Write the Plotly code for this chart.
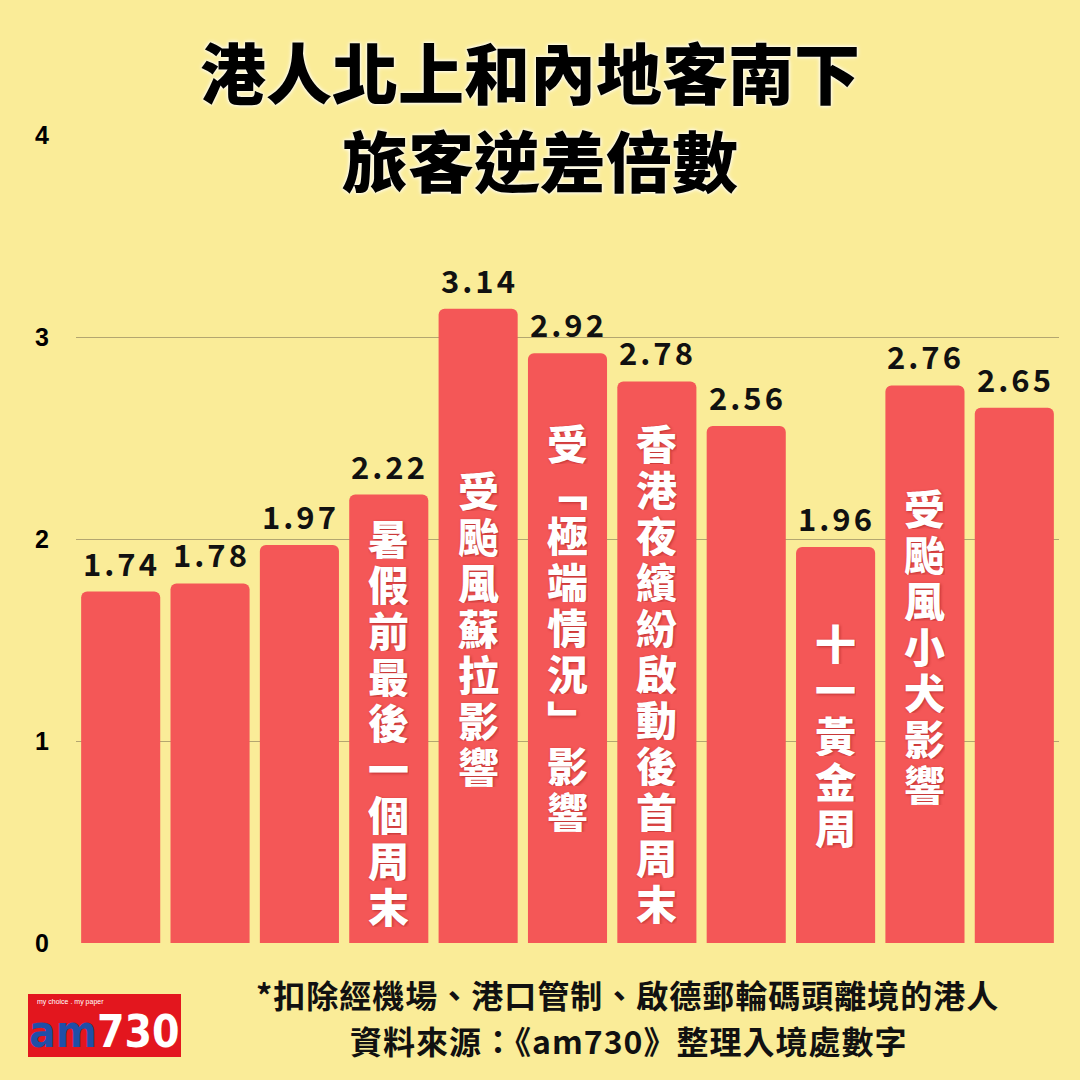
import plotly.graph_objects as go

# ---- data ----
weeks = list(range(11))
ratios = [1.74, 1.78, 1.97, 2.22, 3.14, 2.92, 2.78, 2.56, 1.96, 2.76, 2.65]
events = ["", "", "", "暑假前最後一個周末", "受颱風蘇拉影響", "受﹁極端情況﹂影響",
          "香港夜繽紛啟動後首周末", "", "十一黃金周", "受颱風小犬影響", ""]
y_ticks = [0, 1, 2, 3, 4]
title_lines = ["港人北上和內地客南下", "旅客逆差倍數"]
notes = ["*扣除經機場、港口管制、啟德郵輪碼頭離境的港人", "資料來源：《am730》整理入境處數字"]

BG = "#FAEC98"
BAR = "#F45757"
CJK = "Noto Sans CJK TC"

W = H = 1080
ML, MR, MT, MB = 76, 21, 135, 137
PW, PH = W - ML - MR, H - MT - MB


def px(xp):
    return (xp - ML) / PW


def py(yp):
    return (H - MB - yp) / PH


fig = go.Figure(go.Bar(
    x=weeks, y=ratios, marker=dict(color=BAR, line=dict(width=0)),
    hoverinfo="skip",
))

# pixel offset from bar top to centre of first label character; char pitch
label_offset = [0, 0, 0, 42, 180, 89, 61, 0, 95, 122, 0]
PITCH = 46

annotations = []
for x, v in zip(weeks, ratios):
    annotations.append(dict(
        x=x, y=v, xref="x", yref="y",
        text=f"<span style='letter-spacing:3px'>{v:.2f}</span>", showarrow=False,
        yanchor="bottom", yshift=5, xshift=1,
        font=dict(family=CJK, size=31, color="#111111", weight="bold"),
    ))
for x, v, t, off in zip(weeks, ratios, events, label_offset):
    for i, ch in enumerate(t):
        annotations.append(dict(
            x=x, y=v, xref="x", yref="y", text=ch, showarrow=False,
            yanchor="middle", xanchor="center", yshift=-(off + i * PITCH),
            height=44, valign="middle", borderpad=0,
            font=dict(family=CJK, size=41, color="white", weight=900,
                      shadow="1px 1px 3px rgba(120,0,0,0.45)"),
        ))

# title
for txt, xc, yc in [(title_lines[0], 530, 70), (title_lines[1], 540, 158)]:
    annotations.append(dict(
        x=px(xc), y=py(yc), xref="paper", yref="paper", text=txt,
        showarrow=False, yanchor="middle", xanchor="center",
        font=dict(family=CJK, size=66, color="black", weight=900,
                  shadow="0 0 5px white, 0 0 3px white"),
    ))
# footnotes
for txt, xc, yc in [(notes[0], 627, 994), (notes[1], 628, 1040)]:
    annotations.append(dict(
        x=px(xc), y=py(yc), xref="paper", yref="paper",
        text=f"<span style='letter-spacing:1px'>{txt}</span>",
        showarrow=False, yanchor="middle", xanchor="center",
        font=dict(family=CJK, size=32, color="#111111", weight="bold"),
    ))
# logo
annotations.append(dict(
    x=px(104), y=py(1031), xref="paper", yref="paper",
    text="<span style='color:#1F4FA8'>am</span><span style='color:white'>730</span>",
    showarrow=False, xanchor="center", yanchor="middle",
    font=dict(family="DejaVu Sans Condensed, DejaVu Sans", size=44, weight="bold"),
))
annotations.append(dict(
    x=px(35), y=py(1002), xref="paper", yref="paper",
    text="my choice . my paper", showarrow=False, xanchor="left", yanchor="middle",
    font=dict(family="Liberation Sans", size=7, color="white"),
))

fig.update_layout(
    width=W, height=H,
    paper_bgcolor=BG, plot_bgcolor="rgba(0,0,0,0)",
    margin=dict(l=ML, r=MR, t=MT, b=MB),
    bargap=0.115,
    barcornerradius=6,
    showlegend=False,
    annotations=annotations,
    shapes=[dict(type="rect", xref="paper", yref="paper",
                 x0=px(28), x1=px(181), y0=py(1057), y1=py(994),
                 fillcolor="#E3161E", line=dict(width=0), layer="below")],
    xaxis=dict(range=[-0.5, 10.5], showticklabels=False, showgrid=False,
               zeroline=False, showline=False, ticks=""),
    yaxis=dict(range=[0, 4], tickvals=y_ticks, showgrid=True,
               gridcolor="rgba(120,110,80,0.55)", gridwidth=1, zeroline=False,
               showline=False, ticks="", ticklabelstandoff=26,
               tickfont=dict(family="Liberation Sans", size=25, color="black",
                             weight="bold")),
)

fig.write_html("out.html", config={"displayModeBar": False},
               post_script="document.body.style.margin='0';")
